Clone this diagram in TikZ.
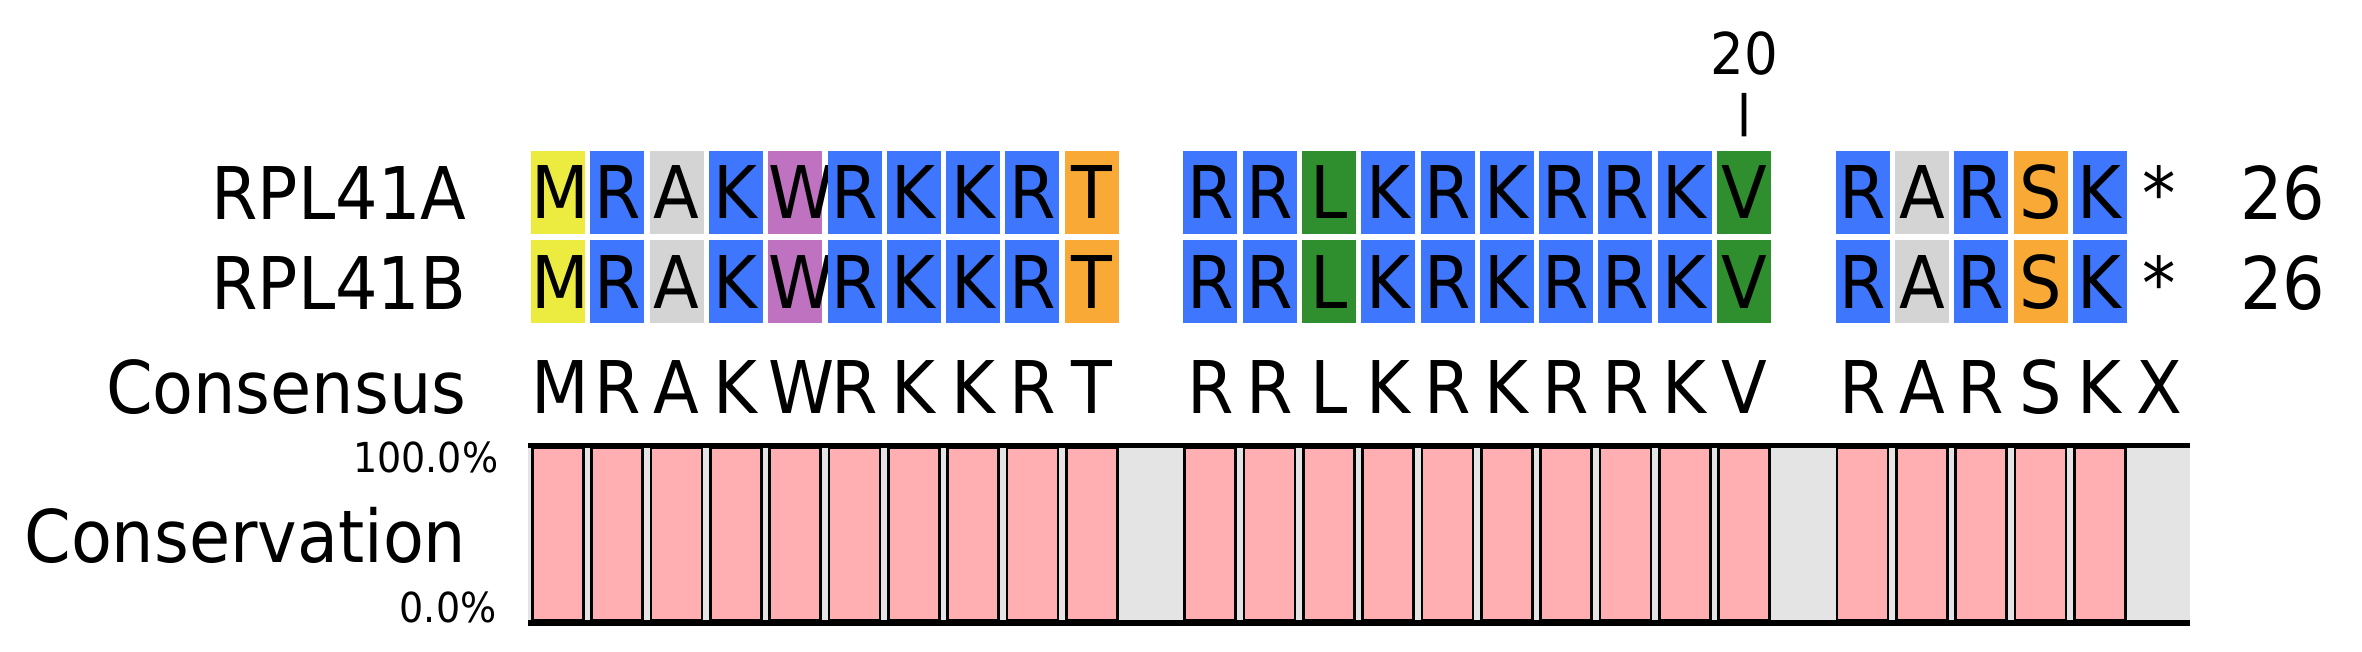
\documentclass[tikz,border=0pt]{standalone}
\usepackage{fontspec}
\setmainfont{DejaVu Sans}[FakeStretch=0.92]
\usepackage{tikz}
\usetikzlibrary{positioning}

\definecolor{resM}{HTML}{ECEC40}
\definecolor{resR}{HTML}{3E77FE}
\colorlet{resK}{resR}
\definecolor{resA}{HTML}{D4D4D4}
\definecolor{resW}{HTML}{BF72BF}
\definecolor{resT}{HTML}{F9AA36}
\colorlet{resS}{resT}
\definecolor{resL}{HTML}{2F8F2F}
\colorlet{resV}{resL}
\definecolor{consgrey}{HTML}{E4E4E4}
\definecolor{conspink}{HTML}{FFAEB1}

\newcommand{\bigfont}{\fontsize{21.8}{26}\selectfont}
\newcommand{\smallfont}{\fontsize{12.4}{15}\selectfont}

\tikzset{
  every cell/.style={text width=16.2pt, align=center, minimum height=24.9pt, inner sep=0pt,
    text height=15.9pt, text depth=0pt, font=\bigfont},
  every label/.style={inner sep=0pt, font=\bigfont},
  scale label/.style={inner sep=0pt, font=\smallfont, anchor=base east},
  cons bar/.style={fill=conspink, draw=black, line width=0.8pt},
  axis line/.style={line width=1.7pt}
}

\begin{document}
\begin{tikzpicture}[x=0.3pt, y=-0.3pt]
	\useasboundingbox (0,0) rectangle (2362,652);
	% row names
	\node[every label, anchor=base east] (name-a) at (467,220) {RPL41A};
	\node[every label, anchor=base east] (name-b) at (467,309) {RPL41B};
	\node[every label, anchor=base east] (name-c) at (467,413) {Consensus};
	\node[every label, anchor=base east] (name-d) at (467,562) {Conservation};
	\node[scale label] (pct-top) at (499,472) {100.0\%};
	\node[scale label] (pct-bot) at (497,622) {0.0\%};
	% aligned residues
	\foreach \r/\k in {M/1,R/2,A/3,K/4,W/5,R/6,K/7,K/8,R/9,T/10,
	                   R/12,R/13,L/14,K/15,R/16,K/17,R/18,R/19,K/20,V/21,
	                   R/23,A/24,R/25,S/26,K/27} {
		\node[every cell, fill=res\r] (a-\k) at ({558+(\k-1)*59.3},192.5) {\r};
		\node[every cell, fill=res\r] (b-\k) at ({558+(\k-1)*59.3},281.5) {\r};
		\node[every cell] (c-\k) at ({558+(\k-1)*59.3},386.5) {\r};
	}
	\node[every cell] (c-28) at ({558+27*59.3},386.5) {X};
	% stop marks and lengths
	\node[every label, anchor=base] (stop-a) at (2159,220) {*};
	\node[every label, anchor=base] (stop-b) at (2159,309) {*};
	\node[every label, anchor=base east] (len-a) at (2326,220) {26};
	\node[every label, anchor=base east] (len-b) at (2326,309) {26};
	% ruler mark
	\node[inner sep=0pt, font=\fontsize{17.3}{20}\selectfont, anchor=base] (pos-20) at (1744,75) {20};
	\draw[line width=1.4pt] ([yshift=-5.4pt]pos-20.base) -- ([yshift=4.2pt]a-21.north);
	% conservation plot
	\fill[consgrey] (528,448) rectangle (2190,620);
	\foreach \k in {1,...,10,12,13,...,21,23,24,...,27}
		\draw[cons bar] ({532.5+(\k-1)*59.3},448) rectangle ++(51,172);
	\draw[axis line] (528,445.5) -- (2190,445.5);
	\draw[axis line] (528,623) -- (2190,623);
\end{tikzpicture}
\end{document}
